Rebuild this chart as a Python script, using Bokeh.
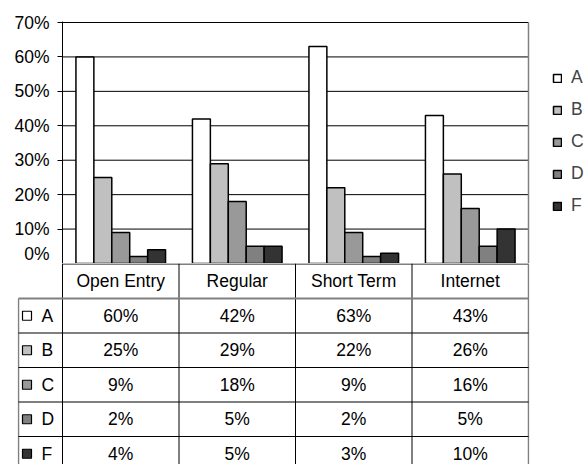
from bokeh.plotting import figure
from bokeh.models import (Range1d, ColumnDataSource, FixedTicker,
                          NumeralTickFormatter, Legend)
from bokeh.transform import dodge
from bokeh.core.properties import value
from bokeh.embed import file_html
from bokeh.resources import INLINE

# ---------------- data ----------------
categories = ["Open Entry", "Regular", "Short Term", "Internet"]
series_names = ["A", "B", "C", "D", "F"]
A = [0.60, 0.42, 0.63, 0.43]
B = [0.25, 0.29, 0.22, 0.26]
C = [0.09, 0.18, 0.09, 0.16]
D = [0.02, 0.05, 0.02, 0.05]
F = [0.04, 0.05, 0.03, 0.10]
yticks = [0, 0.1, 0.2, 0.3, 0.4, 0.5, 0.6, 0.7]

series = [A, B, C, D, F]
colors = ["#ffffff", "#c0c0c0", "#999999", "#808080", "#333333"]
FONT = "Liberation Sans"
FS = "17.5px"

PX = 116.5            # pixels per category
ncat = len(categories)
n = len(series_names)
ymax = yticks[-1]

# ---------------- chart ----------------
src = ColumnDataSource(dict(xc=[i + 0.5 for i in range(ncat)], cat=categories,
                            **{nm: s for nm, s in zip(series_names, series)}))

PLOT_H = 242          # frame height in px (0% .. just above 70%)
p = figure(width=585, height=263,
           x_range=Range1d(0, ncat + 57.0 / PX),
           y_range=Range1d(0, ymax + ymax / (PLOT_H - 1)),
           x_axis_location=None,
           output_backend="svg", toolbar_location=None,
           min_border_left=62, min_border_right=0, min_border_top=21, min_border_bottom=0)

w = 1.0 / (n + 1.5)
items = []
for j, (name, col) in enumerate(zip(series_names, colors)):
    r = p.vbar(x=dodge("xc", (j - (n - 1) / 2) * w), top=name, width=w,
               source=src, fill_color=col, line_color="black", line_width=1.5)
    items.append((name, [r]))

# horizontal grid lines only across the plot area
p.segment(x0=[0] * len(yticks), y0=yticks, x1=[ncat] * len(yticks), y1=yticks,
          line_color="black", line_width=1, level="underlay")
# right border of plot area
p.segment(x0=[ncat], y0=[0], x1=[ncat], y1=[ymax], line_color="#808080", line_width=1.5)

p.yaxis.ticker = FixedTicker(ticks=yticks)
p.yaxis.formatter = NumeralTickFormatter(format="0%")
p.yaxis.major_label_text_font = FONT
p.yaxis.major_label_text_font_size = FS
p.yaxis.major_label_text_color = "black"
p.yaxis.axis_line_color = "black"
p.yaxis.major_tick_out = 5
p.yaxis.major_tick_in = 0
p.yaxis.minor_tick_line_color = None
p.yaxis.major_label_standoff = 8
p.grid.visible = False
p.outline_line_color = None
p.background_fill_color = "white"
p.border_fill_color = "white"

legend = Legend(items=items, location=(490, 47), orientation="vertical",
                glyph_width=10, glyph_height=10, label_height=20, spacing=11,
                label_standoff=9, padding=0, margin=0,
                label_text_font=FONT, label_text_font_size=FS,
                border_line_color=None, background_fill_alpha=0)
p.add_layout(legend, "center")

# ---------------- data table ----------------
HEAD = 35.0           # header row height
ROW = 34.5            # data row height
TH = 201              # table figure height
x0 = -45.0 / PX
x1 = ncat + 1.0 / PX

t = figure(width=585, height=TH, x_range=Range1d(x0, x1), y_range=Range1d(TH, 0),
           x_axis_location=None, y_axis_location=None,
           output_backend="svg", toolbar_location=None,
           min_border_left=17, min_border_right=56, min_border_top=0, min_border_bottom=0)
t.grid.visible = False
t.outline_line_color = None

bottom = HEAD + ROW * n + 20
left_col = -44.0 / PX

# top line (category axis)
t.segment(x0=[0], y0=[0.5], x1=[ncat], y1=[0.5], line_color="black", line_width=1)
# vertical lines at category boundaries
t.segment(x0=list(range(ncat)), y0=[0] * ncat, x1=list(range(ncat)), y1=[bottom] * ncat,
          line_color="black", line_width=1)
t.segment(x0=[ncat], y0=[0], x1=[ncat], y1=[bottom], line_color="#808080", line_width=1.5)
t.segment(x0=[left_col], y0=[HEAD], x1=[left_col], y1=[bottom], line_color="#808080", line_width=1.5)
# header bottom line
t.segment(x0=[left_col], y0=[HEAD], x1=[ncat], y1=[HEAD], line_color="#808080", line_width=2)
# row separators
ys = [HEAD + ROW * k for k in range(1, n + 1)]
t.segment(x0=[left_col] * n, y0=ys, x1=[ncat] * n, y1=ys, line_color="black", line_width=1)

# header text
t.text(x=[i + 0.5 for i in range(ncat)], y=[HEAD / 2] * ncat, text=categories,
       text_align="center", text_baseline="middle",
       text_font=value(FONT), text_font_size=FS, text_color="black")

# cell values
cx, cy, ctext = [], [], []
for j, s in enumerate(series):
    for i, v in enumerate(s):
        cx.append(i + 0.5)
        cy.append(HEAD + ROW * (j + 0.5))
        ctext.append(f"{round(v * 100)}%")
t.text(x=cx, y=cy, text=ctext, text_align="center", text_baseline="middle",
       text_font=value(FONT), text_font_size=FS, text_color="black")

# row labels with legend keys
row_y = [HEAD + ROW * (j + 0.5) for j in range(n)]
t.scatter(x=[-35.5 / PX] * n, y=row_y, marker="square", size=9,
          fill_color=colors, line_color="black", line_width=1.2)
t.text(x=[-21.0 / PX] * n, y=row_y, text=series_names, text_align="left", text_baseline="middle",
       text_font=value(FONT), text_font_size=FS, text_color="black")

open("out.html", "w").write(file_html([p, t], INLINE))
